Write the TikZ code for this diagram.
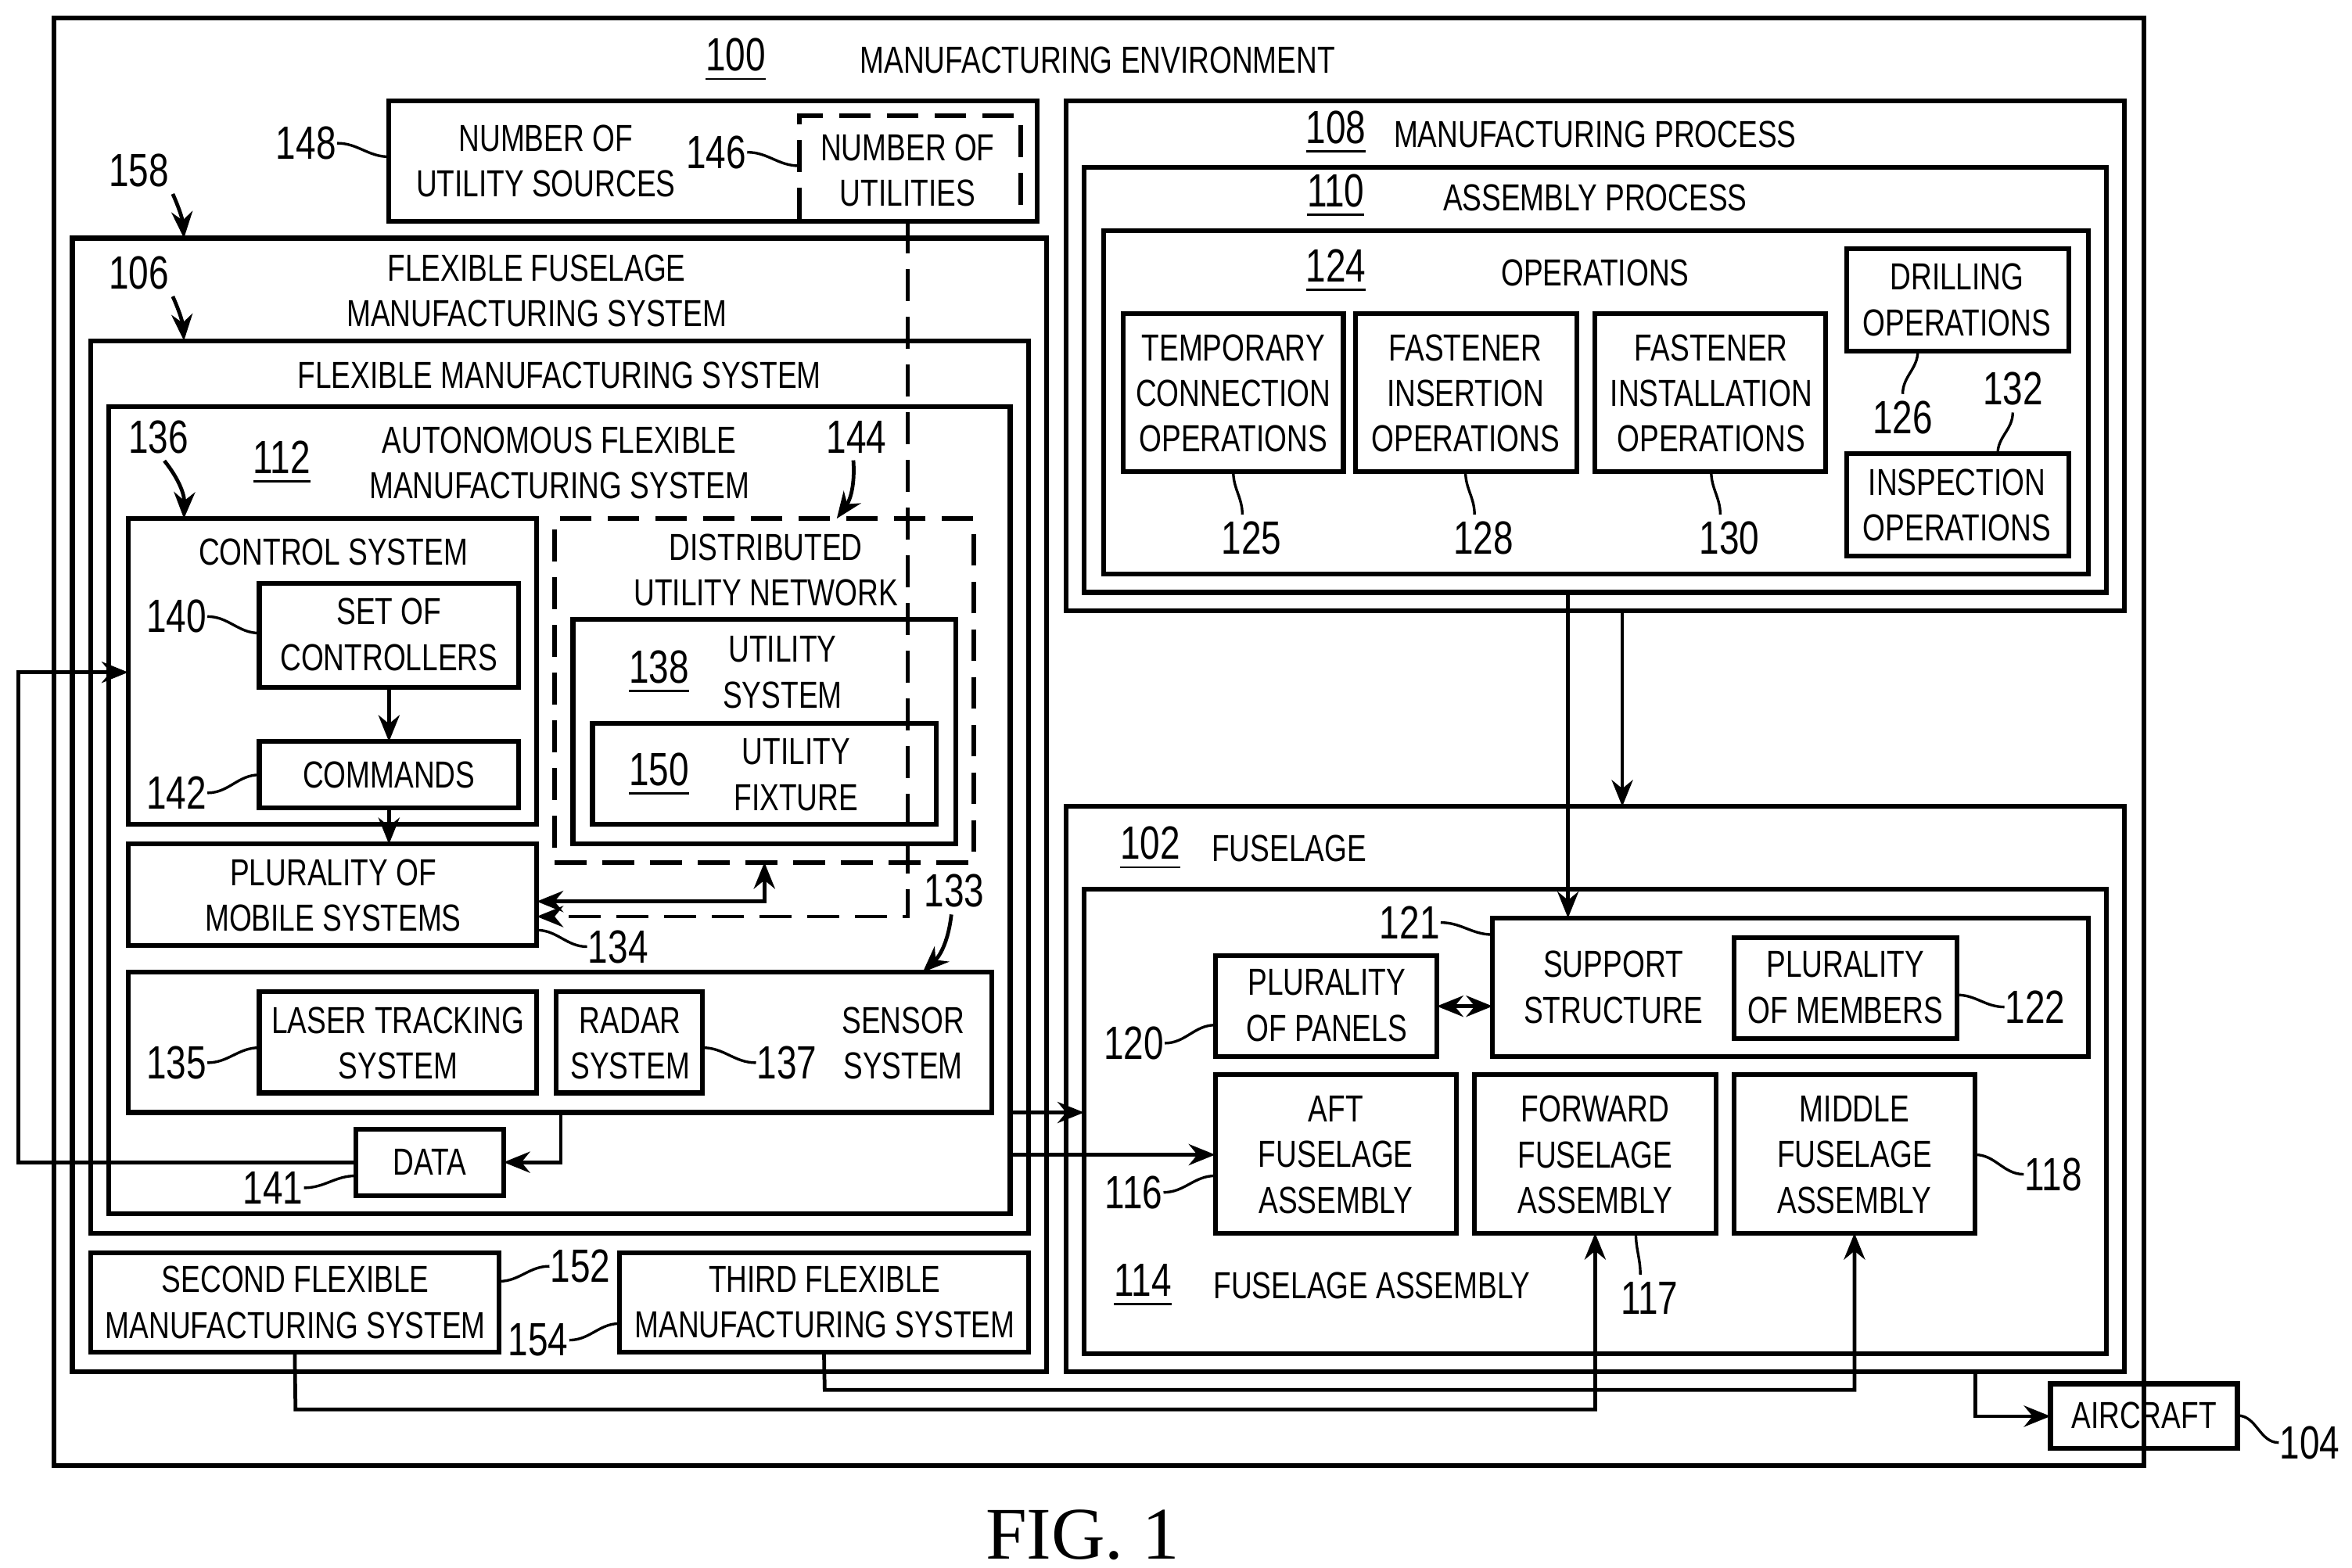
\documentclass[tikz,border=0pt]{standalone}
\usepackage{fontspec}
\setmainfont[FakeStretch=0.77]{Liberation Sans}
\newfontfamily\figfont{Liberation Serif}
\usetikzlibrary{fit,arrows.meta}
\tikzset{
  box/.style={draw, line width=0.9pt, inner sep=0pt, outer sep=0pt},
  dbox/.style={box, dash pattern=on 6pt off 3pt},
  txt/.style={align=center, font=\fontsize{7.1}{8.6}\selectfont, inner sep=0pt},
  num/.style={font=\fontsize{8.8}{10}\selectfont, inner sep=0pt},
  lead/.style={line width=0.5pt},
  conn/.style={line width=0.7pt, -{Stealth[length=5pt,width=4pt]}}
}
% box from two corners
\newcommand{\bx}[6][box]{\node[#1, fit={(#3,#4)(#5,#6)}] (#2) {};}
\begin{document}
\begin{tikzpicture}[x=0.01cm, y=-0.01cm]
\useasboundingbox (0,0) rectangle (1560,1040);

% outer frames
\bx{env}{36}{12}{1422}{972}
\node[num] (n100) at (488,40) {\underline{100}};
\node[txt] at (728,40) {MANUFACTURING ENVIRONMENT};

\bx{usrc}{258}{67}{688}{147}
\node[txt] at (362,107) {NUMBER OF\\UTILITY SOURCES};
\bx[dbox]{util}{530}{77}{677}{147}
\node[txt] at (602,113) {NUMBER OF\\UTILITIES};
\node[num] (n148) at (203,95) {148};
\draw[lead] (n148.east) to[out=0,in=180] (usrc.west |- 0,104);
\node[num] (n146) at (475,101) {146};
\draw[lead] (n146.east) to[out=0,in=180] (530,110);

% flexible fuselage manufacturing system
\bx{ffms}{48}{158}{694}{910}
\node[txt] at (356,193) {FLEXIBLE FUSELAGE\\MANUFACTURING SYSTEM};
\node[num] (n158) at (92,113) {158};
\draw[conn] (n158.south east) ++(2,4) to[bend left=10] (122,158);
\bx{fms}{60}{226}{682}{818}
\node[txt] at (371,249) {FLEXIBLE MANUFACTURING SYSTEM};
\node[num] (n106) at (92,181) {106};
\draw[conn] (n106.south east) ++(2,4) to[bend left=10] (122,226);
\bx{afms}{72}{270}{670}{805}
\node[txt] at (371,307) {AUTONOMOUS FLEXIBLE\\MANUFACTURING SYSTEM};
\node[num] at (187,307) {\underline{112}};

% control system
\bx{ctrl}{85}{344}{356}{547}
\node[txt] at (221,366) {CONTROL SYSTEM};
\node[num] (n136) at (105,290) {136};
\draw[conn] (n136.south) ++(4,4) to[bend left=20] (122,344);
\bx{setc}{172}{387}{344}{456}
\node[txt] at (258,421) {SET OF\\CONTROLLERS};
\node[num] (n140) at (117,409) {140};
\draw[lead] (n140.east) to[out=0,in=180] (172,420);
\bx{cmd}{172}{492}{344}{536}
\node[txt] at (258,514) {COMMANDS};
\node[num] (n142) at (117,526) {142};
\draw[lead] (n142.east) to[out=0,in=180] (172,514);

% distributed utility network
\bx[dbox]{dun}{368}{344}{646}{572}
\node[txt] at (508,378) {DISTRIBUTED\\UTILITY NETWORK};
\node[num] (n144) at (568,290) {144};
\draw[conn] (n144.south) ++(-2,4) to[bend left=20] (555,344);
\bx{usys}{380}{411}{634}{560}
\node[txt] at (519,446) {UTILITY\\SYSTEM};
\node[num] at (437,446) {\underline{138}};
\bx{ufix}{393}{480}{621}{547}
\node[txt] at (528,514) {UTILITY\\FIXTURE};
\node[num] at (437,514) {\underline{150}};

% mobile systems
\bx{mob}{85}{560}{356}{627}
\node[txt] at (221,594) {PLURALITY OF\\MOBILE SYSTEMS};
\node[num] (n134) at (410,628) {134};
\draw[lead] (n134.west) to[out=180,in=0] (356,617);

% sensor system
\bx{sens}{85}{645}{658}{738}
\node[txt] at (599,692) {SENSOR\\SYSTEM};
\node[num] (n133) at (633,591) {133};
\draw[conn] (n133.south) ++(-2,4) to[bend left=20] (612,645);
\bx{laser}{172}{658}{356}{725}
\node[txt] at (264,692) {LASER TRACKING\\SYSTEM};
\node[num] (n135) at (117,705) {135};
\draw[lead] (n135.east) to[out=0,in=180] (172,695);
\bx{radar}{369}{658}{466}{725}
\node[txt] at (418,692) {RADAR\\SYSTEM};
\node[num] (n137) at (522,705) {137};
\draw[lead] (n137.west) to[out=180,in=0] (466,695);
\bx{data}{236}{749}{334}{793}
\node[txt] at (285,771) {DATA};
\node[num] (n141) at (181,788) {141};
\draw[lead] (n141.east) to[out=0,in=180] (236,780);

% other flexible systems
\bx{sec}{60}{831}{331}{897}
\node[txt] at (196,864) {SECOND FLEXIBLE\\MANUFACTURING SYSTEM};
\node[num] (n152) at (385,840) {152};
\draw[lead] (n152.west) to[out=180,in=0] (331,850);
\bx{thr}{411}{831}{682}{897}
\node[txt] at (547,864) {THIRD FLEXIBLE\\MANUFACTURING SYSTEM};
\node[num] (n154) at (357,889) {154};
\draw[lead] (n154.east) to[out=0,in=180] (411,878);

% manufacturing process
\bx{mproc}{707}{67}{1409}{405}
\node[num] at (886,88) {\underline{108}};
\node[txt] at (1058,89) {MANUFACTURING PROCESS};
\bx{aproc}{719}{111}{1397}{393}
\node[num] at (886,130) {\underline{110}};
\node[txt] at (1058,131) {ASSEMBLY PROCESS};
\bx{ops}{732}{153}{1385}{381}
\node[num] at (886,180) {\underline{124}};
\node[txt] at (1058,181) {OPERATIONS};
\bx{temp}{745}{208}{891}{313}
\node[txt] at (818,261) {TEMPORARY\\CONNECTION\\OPERATIONS};
\node[num] (n125) at (830,357) {125};
\draw[lead] (n125.north) ++(-6,-4) to[out=90,in=270] (818,313);
\bx{fins}{899}{208}{1046}{313}
\node[txt] at (972,261) {FASTENER\\INSERTION\\OPERATIONS};
\node[num] (n128) at (984,357) {128};
\draw[lead] (n128.north) ++(-6,-4) to[out=90,in=270] (972,313);
\bx{finst}{1058}{208}{1211}{313}
\node[txt] at (1135,261) {FASTENER\\INSTALLATION\\OPERATIONS};
\node[num] (n130) at (1147,357) {130};
\draw[lead] (n130.north) ++(-6,-4) to[out=90,in=270] (1135,313);
\bx{drill}{1225}{165}{1372}{233}
\node[txt] at (1298,199) {DRILLING\\OPERATIONS};
\node[num] (n126) at (1262,277) {126};
\draw[lead] (n126.north) ++(0,-4) to[out=90,in=270] (1272,233);
\bx{insp}{1225}{301}{1372}{369}
\node[txt] at (1298,335) {INSPECTION\\OPERATIONS};
\node[num] (n132) at (1335,258) {132};
\draw[lead] (n132.south) ++(0,4) to[out=270,in=90] (1325,301);

% fuselage
\bx{fus}{707}{535}{1409}{910}
\node[num] at (763,563) {\underline{102}};
\node[txt] at (855,563) {FUSELAGE};
\bx{fasm}{719}{590}{1397}{898}
\node[num] at (758,853) {\underline{114}};
\node[txt] at (910,853) {FUSELAGE ASSEMBLY};
\bx{pan}{806}{634}{953}{701}
\node[txt] at (880,667) {PLURALITY\\OF PANELS};
\node[num] (n120) at (752,692) {120};
\draw[lead] (n120.east) to[out=0,in=180] (806,680);
\bx{sup}{990}{609}{1385}{701}
\node[txt] at (1070,655) {SUPPORT\\STRUCTURE};
\node[num] (n121) at (935,612) {121};
\draw[lead] (n121.east) to[out=0,in=180] (990,620);
\bx{mem}{1150}{622}{1298}{689}
\node[txt] at (1224,655) {PLURALITY\\OF MEMBERS};
\node[num] (n122) at (1350,668) {122};
\draw[lead] (n122.west) to[out=180,in=0] (1298,660);
\bx{aft}{806}{713}{966}{818}
\node[txt] at (886,766) {AFT\\FUSELAGE\\ASSEMBLY};
\node[num] (n116) at (752,791) {116};
\draw[lead] (n116.east) to[out=0,in=180] (806,780);
\bx{fwd}{978}{713}{1138}{818}
\node[txt] at (1058,766) {FORWARD\\FUSELAGE\\ASSEMBLY};
\node[num] (n117) at (1094,861) {117};
\draw[lead] (n117.north) ++(-6,-4) to[out=90,in=270] (1085,818);
\bx{mid}{1150}{713}{1310}{818}
\node[txt] at (1230,766) {MIDDLE\\FUSELAGE\\ASSEMBLY};
\node[num] (n118) at (1362,779) {118};
\draw[lead] (n118.west) to[out=180,in=0] (1310,766);

\bx{acft}{1360}{918}{1484}{961}
\node[txt] at (1422,939) {AIRCRAFT};
\node[num] (n104) at (1532,957) {104};
\draw[lead] (n104.west) to[out=180,in=0] (1484,939);

% connectors
\draw[conn] (setc) -- (cmd);
\draw[conn] (cmd) -- (cmd |- mob.north);
\draw[line width=0.7pt, dash pattern=on 6pt off 3pt, -{Stealth[length=5pt,width=4pt]}]
  (util.south -| 602,0) -- (602,608) -- (mob.east |- 0,608);
\draw[line width=0.7pt, {Stealth[length=5pt,width=4pt]}-{Stealth[length=5pt,width=4pt]}]
  (mob.east |- 0,598) -| (dun.south -| 507,0);
\draw[conn] (sens.south -| 372,0) |- (data.east);
\draw[conn] (data.west) -- (12,771) |- (ctrl.west |- 0,446);
\draw[conn] (afms.east |- 0,738) -- (fasm.west |- 0,738);
\draw[conn] (afms.east |- 0,766) -- (aft.west |- 0,766);
\draw[conn] (aproc.south -| 1040,0) -- (sup.north -| 1040,0);
\draw[conn] (mproc.south -| 1076,0) -- (fus.north -| 1076,0);
\draw[line width=0.7pt, {Stealth[length=5pt,width=4pt]}-{Stealth[length=5pt,width=4pt]}] (pan.east) -- (sup.west |- pan.east);
\draw[conn] (sec.south) -- (196,935) -| (fwd.south);
\draw[conn] (thr.south) -- (547,922) -| (mid.south);
\draw[conn] (fus.south -| 1310,0) |- (acft.west);

\node[font=\fontsize{14}{16}\figfont] (fig) at (718,1018) {FIG. 1};
\end{tikzpicture}
\end{document}
